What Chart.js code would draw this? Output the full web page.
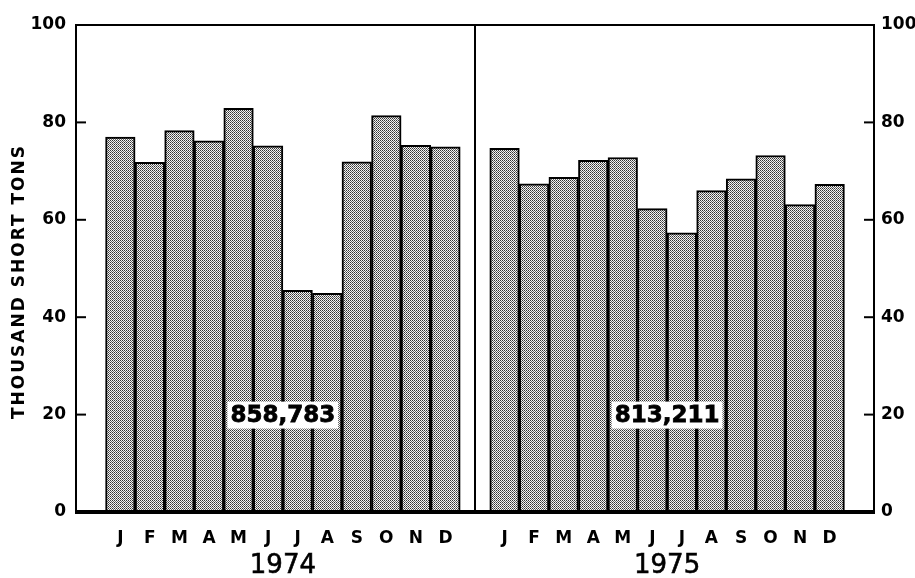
<!DOCTYPE html>
<html>
<head>
<meta charset="utf-8">
<script src="https://cdn.jsdelivr.net/npm/chart.js@4/dist/chart.umd.min.js"></script>
<style>
  html, body { margin: 0; padding: 0; background: #fff; }
  #wrap { width: 915px; height: 578px; position: relative; }
</style>
</head>
<body>
<div id="wrap"><canvas id="c" width="915" height="578"></canvas></div>
<script>
// ---- data ----
const months = ['J','F','M','A','M','J','J','A','S','O','N','D'];
const years = ['1974', '1975'];
const values1974 = [77.0, 71.8, 78.3, 76.2, 82.9, 75.2, 45.5, 44.9, 71.9, 81.4, 75.3, 75.0];
const values1975 = [74.7, 67.4, 68.7, 72.2, 72.8, 62.3, 57.3, 66.0, 68.4, 73.2, 63.1, 67.3];
const totals = ['858,783', '813,211'];
const yTicks = [0, 20, 40, 60, 80, 100];
const yTitle = 'THOUSAND SHORT TONS';

// categories: blank, 12 months, blank (divider), 12 months, blank
const labels = [''].concat(months, [''], months, ['']);
const data = [null].concat(values1974, [null], values1975, [null]);
const dividerIndex = 13;
const yearCenters = [6.5, 19.5];

// stipple pattern
const pc = document.createElement('canvas');
pc.width = 2; pc.height = 2;
const pctx = pc.getContext('2d');
pctx.fillStyle = '#f4f4f4'; pctx.fillRect(0, 0, 2, 2);
pctx.fillStyle = '#333'; pctx.fillRect(0, 0, 1, 1);
pctx.fillStyle = '#666'; pctx.fillRect(1, 1, 1, 1);
const pattern = document.getElementById('c').getContext('2d').createPattern(pc, 'repeat');

const FONT = "'DejaVu Sans', sans-serif";

const framePlugin = {
  id: 'frame',
  afterDatasetsDraw(chart) {
    const ctx = chart.ctx;
    const a = chart.chartArea;
    const xs = chart.scales.x, ys = chart.scales.y;
    ctx.save();
    ctx.strokeStyle = '#000';
    ctx.lineCap = 'butt';
    // top line
    ctx.lineWidth = 2;
    ctx.beginPath(); ctx.moveTo(a.left - 1, a.top); ctx.lineTo(a.right + 1, a.top); ctx.stroke();
    // left & right axes
    ctx.beginPath(); ctx.moveTo(a.left, a.top); ctx.lineTo(a.left, a.bottom); ctx.stroke();
    ctx.beginPath(); ctx.moveTo(a.right, a.top); ctx.lineTo(a.right, a.bottom); ctx.stroke();
    // divider
    const dx = xs.getPixelForValue(dividerIndex);
    ctx.beginPath(); ctx.moveTo(dx, a.top); ctx.lineTo(dx, a.bottom); ctx.stroke();
    // inward ticks
    yTicks.forEach(v => {
      if (v === 0 || v === 100) return;
      const py = ys.getPixelForValue(v);
      ctx.beginPath(); ctx.moveTo(a.left, py); ctx.lineTo(a.left + 10, py); ctx.stroke();
      ctx.beginPath(); ctx.moveTo(a.right, py); ctx.lineTo(a.right - 10, py); ctx.stroke();
    });
    // baseline
    ctx.lineWidth = 4;
    ctx.beginPath(); ctx.moveTo(a.left - 1, a.bottom); ctx.lineTo(a.right + 1, a.bottom); ctx.stroke();
    // totals with white boxes
    ctx.font = "bold 23px " + FONT;
    ctx.textAlign = 'center';
    ctx.textBaseline = 'middle';
    totals.forEach((t, i) => {
      const cx = xs.getPixelForValue(yearCenters[i]);
      const cy = ys.getPixelForValue(20);
      const w = ctx.measureText(t).width;
      ctx.fillStyle = '#fff';
      ctx.fillRect(cx - w / 2 - 3, cy - 13, w + 6, 27);
      ctx.fillStyle = '#000';
      ctx.strokeStyle = '#000';
      ctx.lineWidth = 0.8;
      ctx.fillText(t, cx, cy + 1);
      ctx.strokeText(t, cx, cy + 1);
    });
    // year labels
    ctx.font = "26px " + FONT;
    ctx.lineWidth = 0.6;
    years.forEach((t, i) => {
      const cx = xs.getPixelForValue(yearCenters[i]);
      ctx.fillText(t, cx, 566);
      ctx.strokeText(t, cx, 566);
    });
    // axis title
    ctx.translate(20, (a.top + a.bottom) / 2 + 13);
    ctx.rotate(-Math.PI / 2);
    ctx.font = "bold 17px " + FONT;
    ctx.letterSpacing = '2px';
    ctx.fillText(yTitle, 0, 0);
    ctx.restore();
  }
};

new Chart(document.getElementById('c'), {
  type: 'bar',
  data: {
    labels: labels,
    datasets: [{
      data: data,
      backgroundColor: pattern,
      borderColor: '#000',
      borderWidth: 2,
      barPercentage: 1,
      categoryPercentage: 1
    }]
  },
  options: {
    responsive: false,
    animation: false,
    layout: { padding: { top: 25, left: 0, right: 0, bottom: 0 } },
    plugins: { legend: { display: false }, tooltip: { enabled: false } },
    scales: {
      x: {
        grid: { display: false, drawTicks: false },
        border: { display: false },
        ticks: { color: '#000', font: { family: FONT, weight: 'bold', size: 17 }, padding: 16, autoSkip: false, maxRotation: 0 },
        afterFit: s => { s.height = 66; }
      },
      y: {
        position: 'left',
        min: 0, max: 100,
        afterBuildTicks: s => { s.ticks = yTicks.map(v => ({ value: v })); },
        grid: { display: false, drawTicks: false },
        border: { display: false },
        ticks: { color: '#000', font: { family: FONT, weight: 'bold', size: 17 }, padding: 10 },
        afterFit: s => { s.width = 76; }
      },
      y2: {
        position: 'right',
        min: 0, max: 100,
        afterBuildTicks: s => { s.ticks = yTicks.map(v => ({ value: v })); },
        grid: { display: false, drawTicks: false },
        border: { display: false },
        ticks: { color: '#000', font: { family: FONT, weight: 'bold', size: 17 }, padding: 7 },
        afterFit: s => { s.width = 41; }
      }
    }
  },
  plugins: [framePlugin]
});
</script>
</body>
</html>
